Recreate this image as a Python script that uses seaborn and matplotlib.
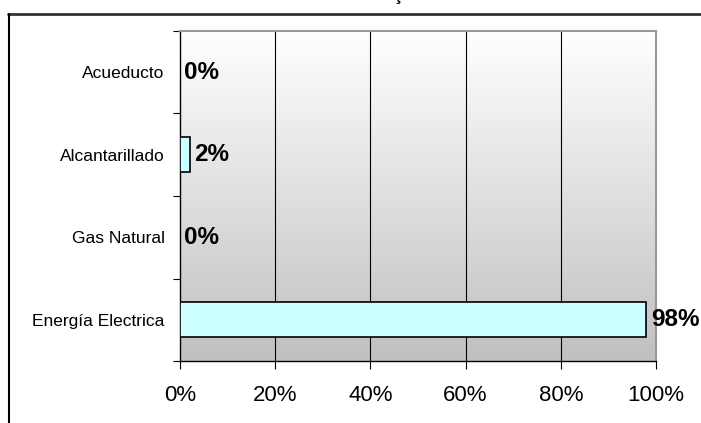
import numpy as np
import pandas as pd
import matplotlib
matplotlib.use("Agg")
import matplotlib.pyplot as plt
from matplotlib.colors import LinearSegmentedColormap
from matplotlib.lines import Line2D
import seaborn as sns

# servicios y porcentajes
servicios = ["Acueducto", "Alcantarillado", "Gas Natural", "Energía Electrica"]
porcentajes = [0, 2, 0, 98]
etiquetas = ["0%", "2%", "0%", "98%"]
xticks = [0, 20, 40, 60, 80, 100]
xtick_labels = ["0%", "20%", "40%", "60%", "80%", "100%"]

sns.set_style("white")
plt.rcParams["font.family"] = ["Liberation Sans", "DejaVu Sans"]
plt.rcParams["text.color"] = "black"
plt.rcParams["xtick.color"] = "black"
plt.rcParams["ytick.color"] = "black"

data = pd.DataFrame({"servicio": servicios, "pct": porcentajes})

fig = plt.figure(figsize=(7.01, 4.23), dpi=100)
ax = fig.add_axes([180/701, 1-361/423, 476/701, 330/423])

# fondo degradado blanco -> gris
cmap = LinearSegmentedColormap.from_list("fondo", ["#ffffff", "#c0c0c0"])
grad = np.linspace(0, 1, 256).reshape(-1, 1)
ax.imshow(grad, cmap=cmap, aspect="auto", extent=[0, 1, 0, 1],
          transform=ax.transAxes, zorder=0, origin="upper")

sns.barplot(data=data, x="pct", y="servicio", orient="h", color="#ccffff",
            edgecolor="black", linewidth=1.2, width=0.42, saturation=1,
            ax=ax, zorder=3)

ax.set_xlim(0, 100)
ax.set_ylim(3.5, -0.5)
ax.set_xlabel("")
ax.set_ylabel("")

for x in xticks[1:-1]:
    ax.axvline(x, color="black", lw=0.8, zorder=1)

ax.set_xticks(xticks, labels=xtick_labels, fontsize=16)
ax.set_yticks([-0.5, 0.5, 1.5, 2.5, 3.5], labels=[])
ax.set_yticks(range(len(servicios)), labels=servicios, minor=True, fontsize=12.5)
ax.tick_params(axis="x", which="major", direction="out", length=6, width=0.8,
               color="black", pad=11, bottom=True)
ax.tick_params(axis="y", which="major", direction="out", length=5, width=0.8,
               color="black", left=True)
ax.tick_params(axis="y", which="minor", length=0, pad=11)

for s in ["top", "right"]:
    ax.spines[s].set_color("#999999")
    ax.spines[s].set_linewidth(1.5)
for s in ["left", "bottom"]:
    ax.spines[s].set_color("black")
    ax.spines[s].set_linewidth(1)

for i, (v, t) in enumerate(zip(porcentajes, etiquetas)):
    ax.annotate(t, (v, i), xytext=(3, 0), textcoords="offset points",
                ha="left", va="center", fontsize=17.5, fontweight="bold",
                color="black", zorder=5)

# borde del recuadro y titulo cortado
fig.add_artist(Line2D([8/701, 1], [1-14/423, 1-14/423], color="#333333", lw=2))
fig.add_artist(Line2D([9/701, 9/701], [0, 1-14/423], color="black", lw=1.5))
fig.text(398/701, 1.0, "ç", fontsize=14, fontweight="bold", ha="center", va="baseline")

fig.savefig("out.png", dpi=100)
